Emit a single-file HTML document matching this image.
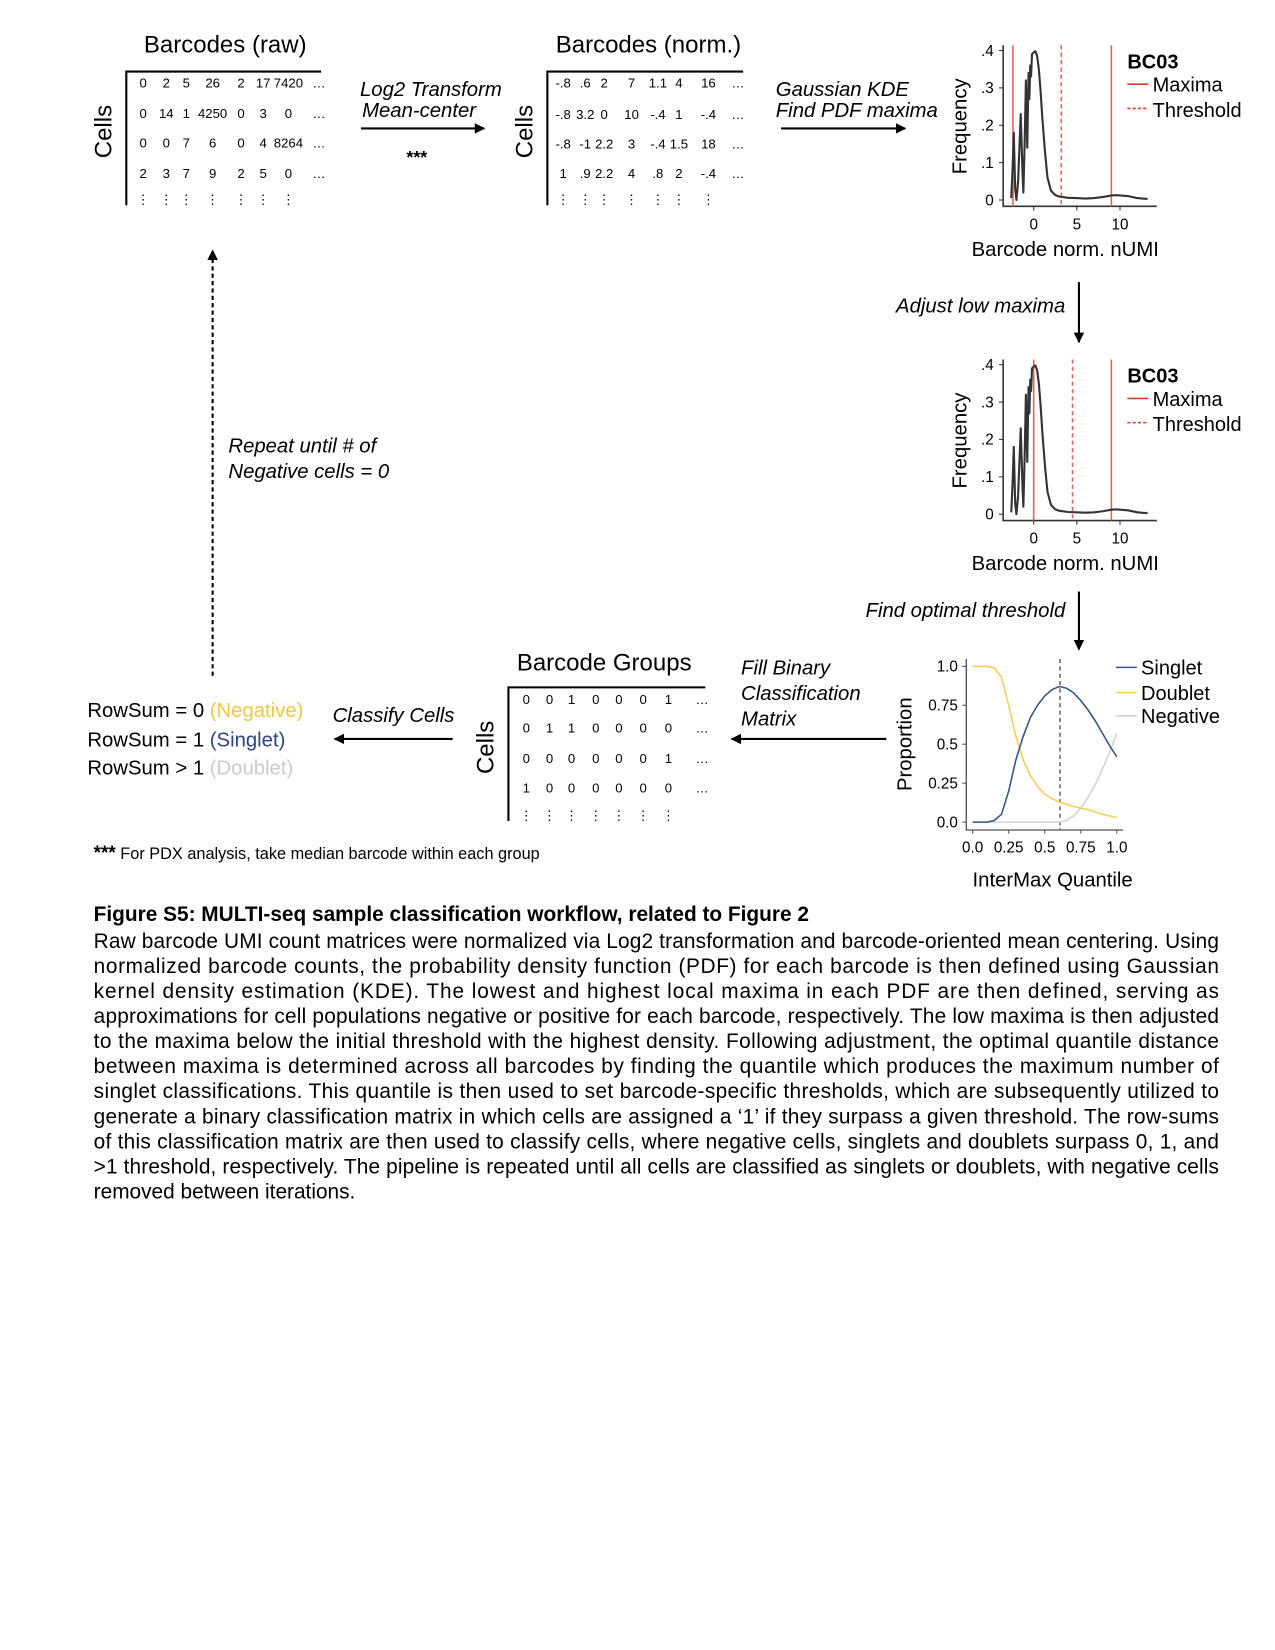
<!DOCTYPE html>
<html><head><meta charset="utf-8"><style>
html,body{margin:0;padding:0;background:#fff;}
svg{display:block;font-family:"Liberation Sans",Arial,sans-serif;}
.it{font-style:italic}
</style></head><body>
<svg id="fig" width="1275" height="1650" viewBox="0 0 1211.25 1567.5" xmlns="http://www.w3.org/2000/svg">
<defs>
<marker id="ah" viewBox="0 0 10 10" refX="9" refY="5" markerWidth="5" markerHeight="5" orient="auto"><path d="M0,0 L10,5 L0,10 z" fill="#000"/></marker>
</defs>
<g id="top" font-size="22.8">
<text x="214" y="50" text-anchor="middle">Barcodes (raw)</text>
<text transform="translate(106,125) rotate(-90)" text-anchor="middle">Cells</text>
<text x="616" y="50" text-anchor="middle">Barcodes (norm.)</text>
<text transform="translate(506,125) rotate(-90)" text-anchor="middle">Cells</text>
<text x="574" y="637" text-anchor="middle">Barcode Groups</text>
<text transform="translate(469,710) rotate(-90)" text-anchor="middle">Cells</text>
</g>
<g id="mats" font-size="12.5"></g>
<g id="arrows" font-size="19.3">
<text class="it" x="342" y="91">Log2 Transform</text>
<text class="it" x="344" y="111">Mean-center</text>
<line x1="343" y1="122" x2="460" y2="122" stroke="#000" stroke-width="2" marker-end="url(#ah)"/>
<text x="396" y="155" text-anchor="middle" font-weight="bold" font-size="17">***</text>
<text class="it" x="737" y="91">Gaussian KDE</text>
<text class="it" x="737" y="111">Find PDF maxima</text>
<line x1="742" y1="122" x2="860" y2="122" stroke="#000" stroke-width="2" marker-end="url(#ah)"/>
<text class="it" x="1012" y="297" text-anchor="end">Adjust low maxima</text>
<line x1="1025" y1="268" x2="1025" y2="325" stroke="#000" stroke-width="2" marker-end="url(#ah)"/>
<text class="it" x="1012" y="586" text-anchor="end">Find optimal threshold</text>
<line x1="1025" y1="562" x2="1025" y2="617" stroke="#000" stroke-width="2" marker-end="url(#ah)"/>
<text class="it" x="704" y="641">Fill Binary</text>
<text class="it" x="704" y="665">Classification</text>
<text class="it" x="704" y="689">Matrix</text>
<line x1="842" y1="702" x2="695" y2="702" stroke="#000" stroke-width="2" marker-end="url(#ah)"/>
<text class="it" x="316" y="686">Classify Cells</text>
<line x1="430" y1="702" x2="318" y2="702" stroke="#000" stroke-width="2" marker-end="url(#ah)"/>
<line x1="202" y1="642" x2="202" y2="238" stroke="#000" stroke-width="2" stroke-dasharray="4,3" marker-end="url(#ah)"/>
<text class="it" x="217" y="430">Repeat until # of</text>
<text class="it" x="217" y="454">Negative cells = 0</text>
</g>
<g id="rowsum" font-size="19.3">
<text x="83" y="681">RowSum = 0 <tspan fill="#f2c744">(Negative)</tspan></text>
<text x="83" y="709">RowSum = 1 <tspan fill="#2d4580">(Singlet)</tspan></text>
<text x="83" y="736">RowSum &gt; 1 <tspan fill="#cccccc">(Doublet)</tspan></text>
</g>
<text x="89" y="816" font-size="15.5"><tspan font-weight="bold" font-size="18">***</tspan> For PDX analysis, take median barcode within each group</text>
<g id="plots"></g>
<g id="caption" font-size="19.8">
<text x="89" y="875" font-weight="bold">Figure S5: MULTI-seq sample classification workflow, related to Figure 2</text>
</g>
</svg>
<script>
const NS='http://www.w3.org/2000/svg';
function mk(tag,attrs,parent,txt){const e=document.createElementNS(NS,tag);for(const k in attrs)e.setAttribute(k,attrs[k]);if(txt!==undefined)e.textContent=txt;parent.appendChild(e);return e;}

// ---- matrices ----
const rawRows=[["0","2","5","26","2","17","7420"],["0","14","1","4250","0","3","0"],["0","0","7","6","0","4","8264"],["2","3","7","9","2","5","0"]];
const normRows=[["-.8",".6","2","7","1.1","4","16"],["-.8","3.2","0","10","-.4","1","-.4"],["-.8","-1","2.2","3","-.4","1.5","18"],["1",".9","2.2","4",".8","2","-.4"]];
const groupRows=[["0","0","1","0","0","0","1"],["0","1","1","0","0","0","0"],["0","0","0","0","0","0","1"],["1","0","0","0","0","0","0"]];
const mats=document.getElementById('mats');
function drawMat(rows,name,bx,by,right,cols,rowY,dotsX){
  const g=mk('g',{},mats);
  
  
  const br=mk('path',{d:`M${bx},${by+127} L${bx},${by} L${right},${by}`,fill:'none',stroke:'#000','stroke-width':2},g);
  
  
  rows.forEach((r,i)=>{
    r.forEach((v,j)=>{
      const t=mk('text',{x:cols[j],y:rowY[i],'text-anchor':'middle'},g,v);
      
      
    });
    const d=mk('text',{x:dotsX,y:rowY[i],'text-anchor':'middle'},g,'…');
    
    
  });
  cols.forEach(cx=>{
    const d=mk('text',{x:cx,y:rowY[4],'text-anchor':'middle'},g,'⋮');
    
    
  });
}
drawMat(rawRows,'raw-matrix',120,68,305,[136,158,177,202,229,250,274],[83,112,140,169,194],303);
drawMat(normRows,'norm-matrix',520,68,706,[535,556,574,600,625,645,673],[83,113,141,169,194],701);
drawMat(groupRows,'group-matrix',483,653,670,[500,522,543,566,588,611,635],[669,696,725,753,779],667);

// ---- density plots ----
const densX=[-2.6,-2.45,-2.3,-2.15,-2.0,-1.8,-1.5,-1.3,-1.2,-1.05,-0.9,-0.75,-0.6,-0.5,-0.4,-0.3,-0.2,0,0.2,0.4,0.6,0.8,1.0,1.3,1.6,2.0,2.5,3,4,5,6,7,8,9,9.5,10,11,12,13,13.2];
const densY=[0.005,0.08,0.18,0.03,0.0,0.05,0.23,0.08,0.02,0.15,0.32,0.14,0.34,0.27,0.36,0.33,0.39,0.395,0.398,0.385,0.35,0.29,0.22,0.13,0.06,0.025,0.013,0.009,0.006,0.005,0.004,0.005,0.008,0.012,0.013,0.012,0.01,0.005,0.003,0.003];
const densXTicks=[0,5,10];
const densYTicks=[0,0.1,0.2,0.3,0.4];
const densYLabels=["0",".1",".2",".3",".4"];
const plot1Lines=[-2.4,3.2,9.0];   // low max, threshold, high max
const plot2Lines=[0,4.5,9.0];
const plots=document.getElementById('plots');
function densPlot(off,lines,name){
  const g=mk('g',{},plots);
  
  
  const sx=v=>982+v*8.2, sy=v=>190+off-v*355;
  const ax=mk('path',{d:`M953,${43+off} L953,${196+off} L1099,${196+off}`,fill:'none',stroke:'#333','stroke-width':1.5},g);
  
  
  densYTicks.forEach((v,i)=>{
    mk('line',{x1:949,x2:953,y1:sy(v),y2:sy(v),stroke:'#333'},g);
    const t=mk('text',{x:944,y:sy(v)+5,'text-anchor':'end','font-size':14.5},g,densYLabels[i]);
    
    
  });
  densXTicks.forEach(v=>{
    mk('line',{x1:sx(v),x2:sx(v),y1:196+off,y2:200+off,stroke:'#333'},g);
    const t=mk('text',{x:sx(v),y:218+off,'text-anchor':'middle','font-size':14.5},g,String(v));
    
    
  });
  lines.forEach((v,i)=>{
    const l=mk('line',{x1:sx(v),x2:sx(v),y1:43+off,y2:196+off,stroke:'#e8605a','stroke-width':1.5},g);
    if(i===1)l.setAttribute('stroke-dasharray','4,3');
    
    
  });
  const p=mk('path',{d:densX.map((x,i)=>(i?'L':'M')+sx(x).toFixed(1)+','+sy(densY[i]).toFixed(1)).join(' '),fill:'none',stroke:'#333','stroke-width':2,'stroke-linejoin':'round'},g);
  
  
  const yl=mk('text',{transform:`translate(918,${120+off}) rotate(-90)`,'text-anchor':'middle','font-size':19.3},g,'Frequency');
  
  
  const xl=mk('text',{x:1012,y:243+off,'text-anchor':'middle','font-size':19.3},g,'Barcode norm. nUMI');
  
  
  const b=mk('text',{x:1071,y:65+off,'font-weight':'bold','font-size':19},g,'BC03');
  
  
  mk('line',{x1:1071,x2:1091,y1:80+off,y2:80+off,stroke:'#e23b2e','stroke-width':1.5},g);
  const m=mk('text',{x:1095,y:87+off,'font-size':19},g,'Maxima');
  
  
  mk('line',{x1:1071,x2:1091,y1:103+off,y2:103+off,stroke:'#e23b2e','stroke-width':1.5,'stroke-dasharray':'3,2'},g);
  const th=mk('text',{x:1095,y:111+off,'font-size':19},g,'Threshold');
  
  
}
densPlot(0,plot1Lines,'density-plot-initial');
densPlot(298.5,plot2Lines,'density-plot-adjusted');

// ---- proportion plot ----
const qX=[0,0.05,0.1,0.15,0.2,0.25,0.3,0.35,0.4,0.45,0.5,0.55,0.6,0.65,0.7,0.75,0.8,0.85,0.9,0.95,1.0];
const singlet=[0,0,0,0.01,0.05,0.2,0.4,0.55,0.67,0.75,0.81,0.85,0.87,0.86,0.83,0.78,0.72,0.65,0.57,0.49,0.42];
const doublet=[1,1,1,0.99,0.93,0.75,0.55,0.4,0.3,0.23,0.18,0.15,0.13,0.115,0.1,0.09,0.08,0.065,0.05,0.04,0.03];
const negative=[0,0,0,0,0,0,0,0,0,0,0,0,0,0.01,0.04,0.09,0.16,0.24,0.34,0.45,0.57];
const optimalQ=0.606;
const pYTicks=[0,0.25,0.5,0.75,1.0];
const pYLabels=["0.0","0.25","0.5","0.75","1.0"];
const pXTicks=[0,0.25,0.5,0.75,1.0];
const pXLabels=["0.0","0.25","0.5","0.75","1.0"];
(function(){
  const g=mk('g',{},plots);
  
  
  const sx=v=>924+v*137, sy=v=>781-v*148;
  const ax=mk('path',{d:'M918,626 L918,788.5 L1067,788.5',fill:'none',stroke:'#555','stroke-width':1.3},g);
  
  
  pYTicks.forEach((v,i)=>{
    mk('line',{x1:914,x2:918,y1:sy(v),y2:sy(v),stroke:'#555'},g);
    const t=mk('text',{x:910,y:sy(v)+5,'text-anchor':'end','font-size':14.5},g,pYLabels[i]);
    
    
  });
  pXTicks.forEach((v,i)=>{
    mk('line',{x1:sx(v),x2:sx(v),y1:788.5,y2:792,stroke:'#555'},g);
    const t=mk('text',{x:sx(v),y:810,'text-anchor':'middle','font-size':14.5},g,pXLabels[i]);
    
    
  });
  const vl=mk('line',{x1:sx(optimalQ),x2:sx(optimalQ),y1:626,y2:788,stroke:'#555','stroke-dasharray':'4,3','stroke-width':1.3},g);
  
  
  [[negative,'#d4d4d4','negative-curve'],[doublet,'#f3d05a','doublet-curve'],[singlet,'#3d5386','singlet-curve']].forEach(([arr,c,n])=>{
    const p=mk('path',{d:qX.map((x,i)=>(i?'L':'M')+sx(x).toFixed(1)+','+sy(arr[i]).toFixed(1)).join(' '),fill:'none',stroke:c,'stroke-width':1.5},g);
    
    
  });
  const yl=mk('text',{transform:'translate(866,707) rotate(-90)','text-anchor':'middle','font-size':19.3},g,'Proportion');
  
  
  const xl=mk('text',{x:1000,y:842,'text-anchor':'middle','font-size':19.3},g,'InterMax Quantile');
  
  
  [['Singlet','#3d5386',634],['Doublet','#f3d05a',658],['Negative','#d4d4d4',680]].forEach(([n,c,y])=>{
    mk('line',{x1:1060,x2:1080,y1:y,y2:y,stroke:c,'stroke-width':1.5},g);
    const t=mk('text',{x:1084,y:y+7,'font-size':19},g,n);
    
    
  });
})();

// ---- caption body ----
const capLines=["Raw barcode UMI count matrices were normalized via Log2 transformation and barcode-oriented mean centering. Using",
"normalized barcode counts, the probability density function (PDF) for each barcode is then defined using Gaussian",
"kernel density estimation (KDE). The lowest and highest local maxima in each PDF are then defined, serving as",
"approximations for cell populations negative or positive for each barcode, respectively. The low maxima is then adjusted",
"to the maxima below the initial threshold with the highest density. Following adjustment, the optimal quantile distance",
"between maxima is determined across all barcodes by finding the quantile which produces the maximum number of",
"singlet classifications. This quantile is then used to set barcode-specific thresholds, which are subsequently utilized to",
"generate a binary classification matrix in which cells are assigned a ‘1’ if they surpass a given threshold. The row-sums",
"of this classification matrix are then used to classify cells, where negative cells, singlets and doublets surpass 0, 1, and",
">1 threshold, respectively. The pipeline is repeated until all cells are classified as singlets or doublets, with negative cells",
"removed between iterations."];
const cap=document.getElementById('caption');
capLines.forEach((s,i)=>{
  const a={x:89,y:(900.5+i*23.8).toFixed(1)};
  if(i<capLines.length-1){a.textLength=1069;a.lengthAdjust='spacing';}
  const t=mk('text',a,cap,s);
  
  
});
</script>
</body></html>
